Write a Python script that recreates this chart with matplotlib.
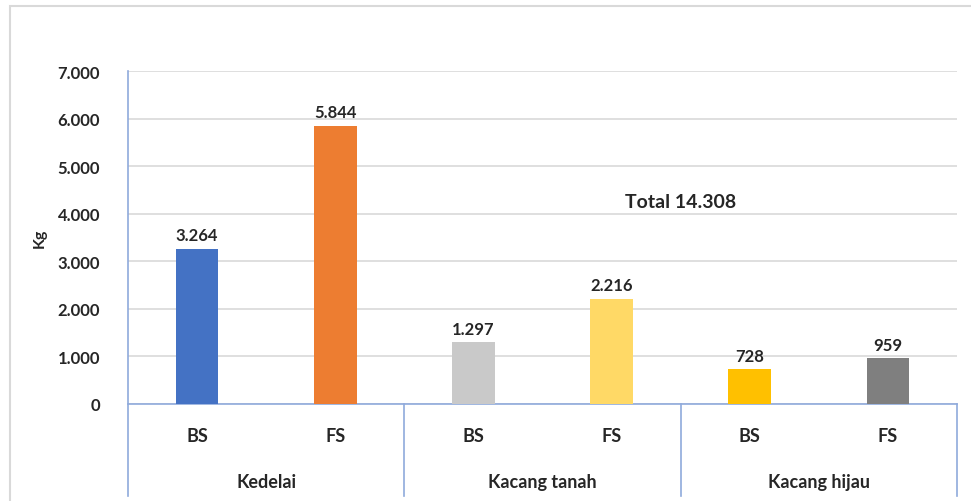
import matplotlib.pyplot as plt
from matplotlib.patches import Rectangle
import matplotlib.transforms as mtransforms

# --- data ---
groups = ['Kedelai', 'Kacang tanah', 'Kacang hijau']
sub_labels = ['BS', 'FS', 'BS', 'FS', 'BS', 'FS']
values = [3264, 5844, 1297, 2216, 728, 959]
colors = ['#4472C4', '#ED7D31', '#C9C9C9', '#FFD966', '#FFC000', '#7F7F7F']
y_ticks = [0, 1000, 2000, 3000, 4000, 5000, 6000, 7000]
total_label = 'Total 14.308'

def fmt(v):
    # Indonesian thousands separator
    return f'{v:,}'.replace(',', '.')

plt.rcParams['font.family'] = ['Lato', 'DejaVu Sans']
TXT = '#262626'

fig = plt.figure(figsize=(9.71, 5.02), dpi=100)
ax = fig.add_axes([128 / 971, 97 / 502, 829 / 971, 333 / 502])

# outer chart frame (runs off right and bottom edge)
fig.add_artist(Rectangle((10 / 971, -0.1), 1.1, (502 - 7) / 502 + 0.1,
                         transform=fig.transFigure, fill=False,
                         edgecolor='#D9D9D9', linewidth=1.5))

x = list(range(len(values)))
ax.bar(x, values, width=0.31, color=colors, zorder=3)

for xi, v in zip(x, values):
    ax.text(xi, v + 120, fmt(v), ha='center', va='bottom',
            fontsize=12, fontweight='bold', color=TXT)

ax.set_xlim(-0.5, len(values) - 0.5)
ax.set_ylim(0, 7000)
ax.set_yticks(y_ticks)
ax.set_yticklabels([fmt(t) for t in y_ticks], fontsize=12,
                   fontweight='bold', color=TXT)
ax.yaxis.grid(True, color='#D9D9D9', linewidth=1.2, zorder=0)
ax.tick_params(axis='y', length=0, pad=20)
ax.tick_params(axis='x', length=0)
ax.set_xticks([])

for s in ['top', 'right', 'left']:
    ax.spines[s].set_visible(False)
ax.spines['bottom'].set_color('#8FAADC')
ax.spines['bottom'].set_linewidth(1.2)

ax.set_ylabel('Kg', fontsize=11.5, fontweight='bold', color=TXT, labelpad=8)

# multi-level category axis
trans = mtransforms.blended_transform_factory(ax.transData, ax.transAxes)
bottom = (405 - 497) / 333
for sep in [-0.5, 1.5, 3.5, 5.5]:
    top = 1.0 if sep == -0.5 else 0.0
    ax.plot([sep, sep], [bottom, top], transform=trans, color='#8FAADC',
            linewidth=1.2, clip_on=False, zorder=4)

for xi, lab in zip(x, sub_labels):
    ax.text(xi, (405 - 437) / 333, lab, transform=trans, ha='center',
            va='center', fontsize=13, fontweight='bold', color=TXT)

for gi, g in enumerate(groups):
    ax.text(gi * 2 + 0.5, (405 - 483) / 333, g, transform=trans, ha='center',
            va='center', fontsize=13, fontweight='bold', color=TXT)

ax.text(3.5, 4250, total_label, ha='center', va='center', fontsize=14,
        fontweight='bold', color=TXT)

fig.savefig('out.png', dpi=100)
